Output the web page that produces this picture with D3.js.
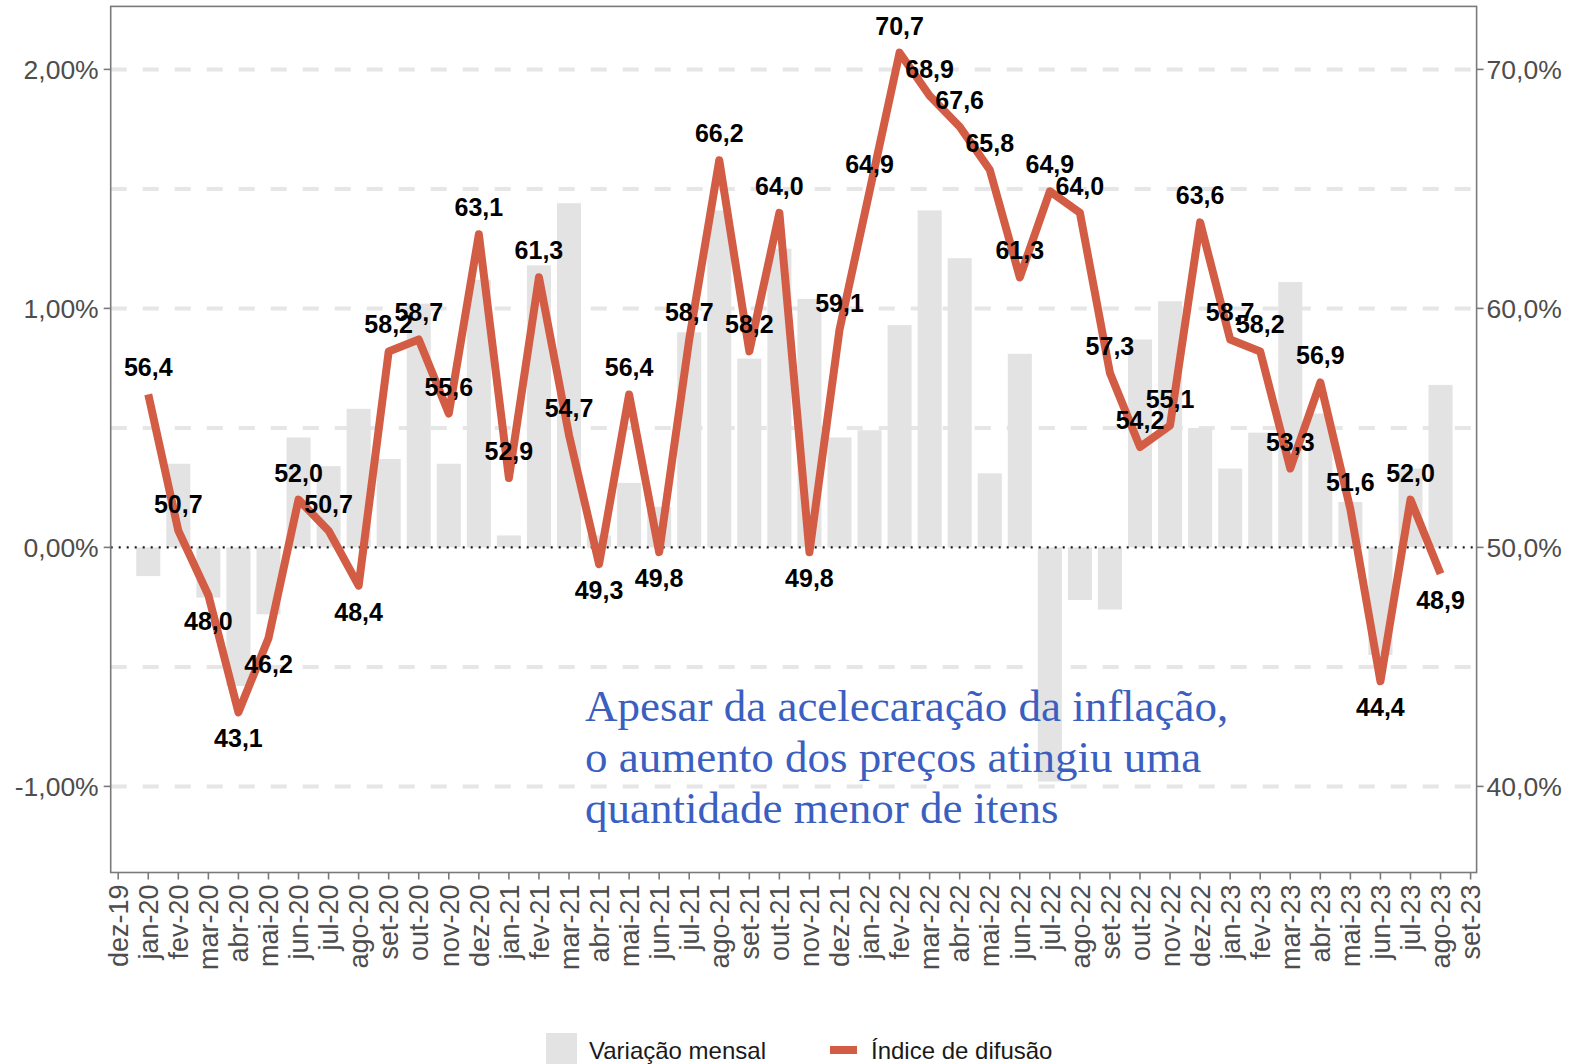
<!DOCTYPE html>
<html>
<head>
<meta charset="utf-8">
<script src="https://cdn.jsdelivr.net/npm/d3@7"></script>
<style>
  html, body { margin: 0; padding: 0; background: #ffffff; }
  svg { display: block; }
</style>
</head>
<body>
<svg id="chart" width="1575" height="1064"></svg>
<script>
// ---------------- DATA ----------------
const tickLabels = ["dez-19","jan-20","fev-20","mar-20","abr-20","mai-20","jun-20","jul-20","ago-20","set-20","out-20","nov-20","dez-20",
  "jan-21","fev-21","mar-21","abr-21","mai-21","jun-21","jul-21","ago-21","set-21","out-21","nov-21","dez-21",
  "jan-22","fev-22","mar-22","abr-22","mai-22","jun-22","jul-22","ago-22","set-22","out-22","nov-22","dez-22",
  "jan-23","fev-23","mar-23","abr-23","mai-23","jun-23","jul-23","ago-23","set-23"];

const categories = ["jan-20","fev-20","mar-20","abr-20","mai-20","jun-20","jul-20","ago-20","set-20","out-20","nov-20","dez-20",
  "jan-21","fev-21","mar-21","abr-21","mai-21","jun-21","jul-21","ago-21","set-21","out-21","nov-21","dez-21",
  "jan-22","fev-22","mar-22","abr-22","mai-22","jun-22","jul-22","ago-22","set-22","out-22","nov-22","dez-22",
  "jan-23","fev-23","mar-23","abr-23","mai-23","jun-23","jul-23","ago-23"];

// Variação mensal (%)
const variacaoMensal = [-0.12,0.35,-0.21,-0.58,-0.28,0.46,0.34,0.58,0.37,1.02,0.35,1.12,
  0.05,1.18,1.44,0.05,0.27,0.17,0.90,1.41,0.79,1.25,1.04,0.46,
  0.49,0.93,1.41,1.21,0.31,0.81,-0.98,-0.22,-0.26,0.87,1.03,0.50,
  0.33,0.48,1.11,0.56,0.19,-0.45,0.33,0.68];

// Índice de difusão (%)
const indiceDifusao = [56.4,50.7,48.0,43.1,46.2,52.0,50.7,48.4,58.2,58.7,55.6,63.1,
  52.9,61.3,54.7,49.3,56.4,49.8,58.7,66.2,58.2,64.0,49.8,59.1,
  64.9,70.7,68.9,67.6,65.8,61.3,64.9,64.0,57.3,54.2,55.1,63.6,
  58.7,58.2,53.3,56.9,51.6,44.4,52.0,48.9];

const leftTicks = [-1, 0, 1, 2];
const leftTickLabels = ["-1,00%","0,00%","1,00%","2,00%"];
const rightTicks = [40, 50, 60, 70];
const rightTickLabels = ["40,0%","50,0%","60,0%","70,0%"];
const gridValues = [-1, -0.5, 0.5, 1, 1.5, 2];

const legendLabels = ["Variação mensal", "Índice de difusão"];
const annotationLines = ["Apesar da acelecaração da inflação,",
  "o aumento dos preços atingiu uma",
  "quantidade menor de itens"];

// ---------------- LAYOUT ----------------
const panel = { left: 110.7, right: 1476.6, top: 6.4, bottom: 872.5 };
const colBar = "#e3e3e3";
const colGrid = "#e6e6e6";
const colLine = "#d35c45";
const colAxisText = "#4d4d4d";
const colFrame = "#7a7a7a";
const sans = "'Liberation Sans', Arial, sans-serif";
const serif = "'Liberation Serif', 'Times New Roman', serif";

const svg = d3.select("#chart");

const x = d3.scaleLinear().domain([-0.25, 45.2]).range([panel.left, panel.right]);
const yL = d3.scaleLinear().domain([-1.3603, 2.2636]).range([panel.bottom, panel.top]);
const yR = d3.scaleLinear().domain([50 - 13.603, 50 + 22.636]).range([panel.bottom, panel.top]);

const idx = c => tickLabels.indexOf(c);
const barW = 0.8 * (x(1) - x(0));

// clip to panel
svg.append("defs").append("clipPath").attr("id", "panelClip")
  .append("rect").attr("x", panel.left).attr("y", panel.top)
  .attr("width", panel.right - panel.left).attr("height", panel.bottom - panel.top);

const gPanel = svg.append("g").attr("clip-path", "url(#panelClip)");

// gridlines (dashed)
gPanel.selectAll("line.grid").data(gridValues).enter().append("line")
  .attr("class", "grid")
  .attr("x1", panel.left).attr("x2", panel.right)
  .attr("y1", d => yL(d)).attr("y2", d => yL(d))
  .attr("stroke", colGrid).attr("stroke-width", 4)
  .attr("stroke-dasharray", "16,16");

// bars
gPanel.selectAll("rect.bar").data(categories).enter().append("rect")
  .attr("class", "bar")
  .attr("x", (c) => x(idx(c)) - barW / 2)
  .attr("width", barW)
  .attr("y", (c, i) => yL(Math.max(0, variacaoMensal[i])))
  .attr("height", (c, i) => Math.abs(yL(variacaoMensal[i]) - yL(0)))
  .attr("fill", colBar);

// zero line (dotted)
gPanel.append("line")
  .attr("x1", panel.left).attr("x2", panel.right)
  .attr("y1", yL(0)).attr("y2", yL(0))
  .attr("stroke", "#1a1a1a").attr("stroke-width", 2.2)
  .attr("stroke-dasharray", "2,6");

// diffusion line
const line = d3.line()
  .x((d, i) => x(idx(categories[i])))
  .y(d => yR(d));
gPanel.append("path").datum(indiceDifusao)
  .attr("d", line)
  .attr("fill", "none")
  .attr("stroke", colLine)
  .attr("stroke-width", 8)
  .attr("stroke-linejoin", "round")
  .attr("stroke-linecap", "butt");

// value labels
svg.append("g").selectAll("text.lbl").data(indiceDifusao).enter().append("text")
  .attr("class", "lbl")
  .attr("x", (d, i) => x(idx(categories[i])))
  .attr("y", d => yR(d) + (d >= 50 ? -27 : 26))
  .attr("dy", "0.36em")
  .attr("text-anchor", "middle")
  .attr("font-family", sans)
  .attr("font-weight", "bold")
  .attr("font-size", 25)
  .attr("fill", "#000")
  .text(d => d.toFixed(1).replace(".", ","));

// annotation
const ann = svg.append("text")
  .attr("font-family", serif)
  .attr("font-size", 45)
  .attr("fill", "#3a5fc1");
annotationLines.forEach((t, i) => {
  ann.append("tspan").attr("x", 585).attr("y", 721 + i * 51).text(t);
});

// panel border
svg.append("rect")
  .attr("x", panel.left).attr("y", panel.top)
  .attr("width", panel.right - panel.left).attr("height", panel.bottom - panel.top)
  .attr("fill", "none").attr("stroke", colFrame).attr("stroke-width", 1.6);

// left axis
const gLeft = svg.append("g");
gLeft.selectAll("line").data(leftTicks).enter().append("line")
  .attr("x1", panel.left - 7).attr("x2", panel.left)
  .attr("y1", d => yL(d)).attr("y2", d => yL(d))
  .attr("stroke", colFrame).attr("stroke-width", 1.6);
gLeft.selectAll("text").data(leftTicks).enter().append("text")
  .attr("x", panel.left - 12).attr("y", d => yL(d)).attr("dy", "0.36em")
  .attr("text-anchor", "end")
  .attr("font-family", sans).attr("font-size", 26.5).attr("fill", colAxisText)
  .text((d, i) => leftTickLabels[i]);

// right axis
const gRight = svg.append("g");
gRight.selectAll("line").data(rightTicks).enter().append("line")
  .attr("x1", panel.right).attr("x2", panel.right + 7)
  .attr("y1", d => yR(d)).attr("y2", d => yR(d))
  .attr("stroke", colFrame).attr("stroke-width", 1.6);
gRight.selectAll("text").data(rightTicks).enter().append("text")
  .attr("x", panel.right + 10).attr("y", d => yR(d)).attr("dy", "0.36em")
  .attr("text-anchor", "start")
  .attr("font-family", sans).attr("font-size", 26.5).attr("fill", colAxisText)
  .text((d, i) => rightTickLabels[i]);

// bottom axis
const gBottom = svg.append("g");
gBottom.selectAll("line").data(tickLabels).enter().append("line")
  .attr("x1", (d, i) => x(i)).attr("x2", (d, i) => x(i))
  .attr("y1", panel.bottom).attr("y2", panel.bottom + 7)
  .attr("stroke", colFrame).attr("stroke-width", 1.6);
gBottom.selectAll("text").data(tickLabels).enter().append("text")
  .attr("transform", (d, i) => `translate(${x(i)},${panel.bottom + 12}) rotate(-90)`)
  .attr("dy", "0.36em")
  .attr("text-anchor", "end")
  .attr("font-family", sans).attr("font-size", 27).attr("fill", colAxisText)
  .text(d => d);

// legend
const gLeg = svg.append("g");
gLeg.append("rect").attr("x", 546).attr("y", 1033).attr("width", 31).attr("height", 36).attr("fill", colBar);
gLeg.append("text").attr("x", 589).attr("y", 1059)
  .attr("font-family", sans).attr("font-size", 24).attr("fill", "#1a1a1a").text(legendLabels[0]);
gLeg.append("rect").attr("x", 830).attr("y", 1046).attr("width", 27).attr("height", 8).attr("fill", colLine);
gLeg.append("text").attr("x", 871).attr("y", 1059)
  .attr("font-family", sans).attr("font-size", 24).attr("fill", "#1a1a1a").text(legendLabels[1]);
</script>
</body>
</html>
